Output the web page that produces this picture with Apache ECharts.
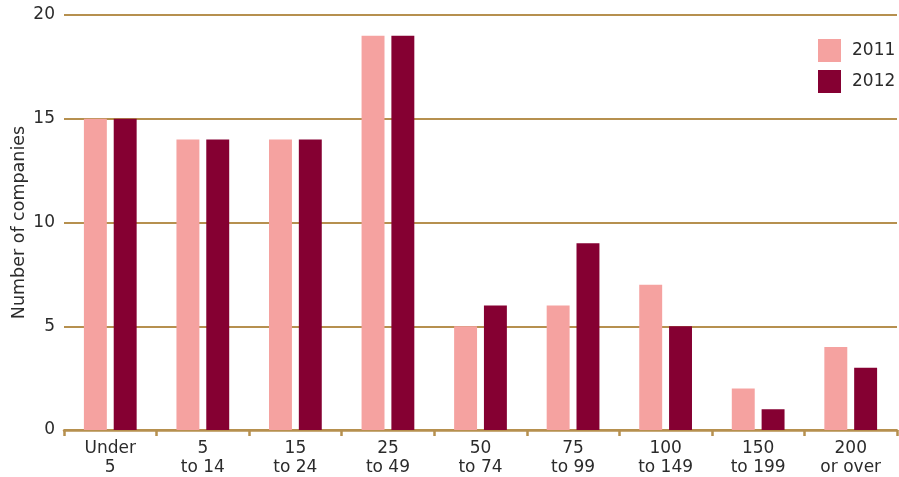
<!DOCTYPE html>
<html><head><meta charset="utf-8">
<script src="https://cdn.jsdelivr.net/npm/echarts@6/dist/echarts.min.js"></script>
<style>html,body{margin:0;padding:0;background:#fff}#c{width:899px;height:477px}</style>
</head><body><div id="c"></div>
<script>
const categories = ['Under\n5', '5\nto 14', '15\nto 24', '25\nto 49', '50\nto 74', '75\nto 99', '100\nto 149', '150\nto 199', '200\nor over'];
const series2011 = [15, 14, 14, 19, 5, 6, 7, 2, 4];
const series2012 = [15, 14, 14, 19, 6, 9, 5, 1, 3];
const yTicks = [0, 5, 10, 15, 20];

const gold = '#b6904f';
const font = 'DejaVu Sans';
const txt = '#2b2b2b';
const chart = echarts.init(document.getElementById('c'), null, {renderer: 'canvas'});
chart.setOption({
  animation: false,
  grid: {left: 64, right: 2, top: 15, bottom: 47, containLabel: false, outerBoundsMode: 'none'},
  legend: {
    orient: 'vertical', left: 818, top: 39, itemWidth: 23, itemHeight: 23, itemGap: 8,
    padding: 0, icon: 'rect',
    textStyle: {color: txt, fontSize: 17, fontFamily: font, padding: [0, 0, 0, 6]},
    data: ['2011', '2012']
  },
  xAxis: {
    type: 'category', data: categories,
    axisLine: {lineStyle: {color: gold, width: 2.5}},
    axisTick: {show: true, length: 6, lineStyle: {color: gold, width: 2.5}, alignWithLabel: false},
    axisLabel: {color: txt, fontSize: 17, fontFamily: font, lineHeight: 19, margin: 9}
  },
  yAxis: {
    type: 'value', min: yTicks[0], max: yTicks[yTicks.length - 1], interval: 5,
    name: 'Number of companies', nameLocation: 'middle', nameGap: 36, nameRotate: 90,
    nameMoveOverlap: false,
    nameTextStyle: {color: txt, fontSize: 17.5, fontFamily: font},
    axisLine: {show: false}, axisTick: {show: false},
    axisLabel: {color: txt, fontSize: 17, fontFamily: font, margin: 9},
    splitLine: {lineStyle: {color: gold, width: 2}}
  },
  series: [
    {name: '2011', type: 'bar', data: series2011, itemStyle: {color: '#f5a2a0'}, barGap: '30%', barCategoryGap: '43%'},
    {name: '2012', type: 'bar', data: series2012, itemStyle: {color: '#850032'}, barGap: '30%', barCategoryGap: '43%'}
  ]
});
</script></body></html>
